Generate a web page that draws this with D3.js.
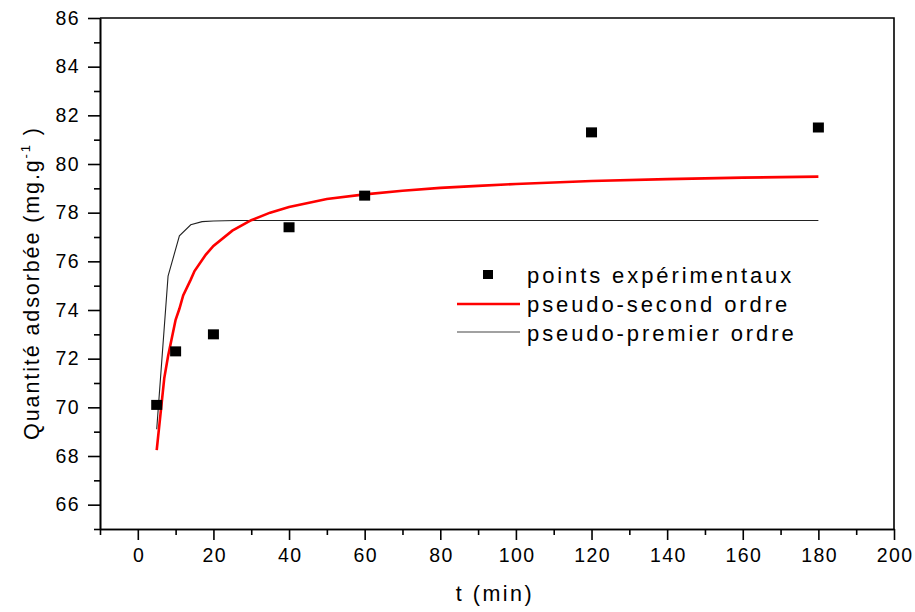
<!DOCTYPE html>
<html><head><meta charset="utf-8">
<script src="https://cdn.jsdelivr.net/npm/d3@7"></script>
<style>body{margin:0;background:#fff}svg{display:block}text{font-family:"Liberation Sans",Arial,sans-serif;fill:#000}</style>
</head><body><svg id="c" width="915" height="612"></svg>
<script>
// experimental points
const expT = [5, 10, 20, 40, 60, 120, 180];
const expQ = [70.1, 72.3, 73.0, 77.4, 78.7, 81.3, 81.5];
// pseudo-second order curve
const ps2T = [5, 7, 8, 10, 11, 12, 14, 15, 18, 20, 25, 30, 35, 40, 50, 60, 70, 80, 90, 100, 120, 140, 160, 180];
const ps2Q = [68.24, 71.2, 72.1, 73.6, 74.05, 74.6, 75.25, 75.6, 76.28, 76.63, 77.26, 77.69, 78.0, 78.23, 78.56, 78.75, 78.9, 79.02, 79.1, 79.18, 79.3, 79.38, 79.44, 79.48];
// pseudo-first order curve
const ps1T = [5, 8, 11, 14, 17, 20, 23, 26, 30, 180];
const ps1Q = [69.1, 75.39, 77.05, 77.5, 77.63, 77.66, 77.67, 77.68, 77.68, 77.68];
// axis ticks
const xMajor = [0, 20, 40, 60, 80, 100, 120, 140, 160, 180, 200];
const xMinor = [-10, 10, 30, 50, 70, 90, 110, 130, 150, 170, 190];
const yMajor = [66, 68, 70, 72, 74, 76, 78, 80, 82, 84, 86];
const yMinor = [65, 67, 69, 71, 73, 75, 77, 79, 81, 83, 85];
const legendLabels = ["points expérimentaux", "pseudo-second ordre", "pseudo-premier ordre"];

const svg = d3.select("#c");
const L = 100, R = 894, T = 18, B = 529;
const x = d3.scaleLinear().domain([-10, 200]).range([L, R]);
const y = d3.scaleLinear().domain([65, 86]).range([B, T]);

// frame (top/right)
svg.append("path").attr("d", `M${L},${T}H${R}V${B}`).attr("fill", "none").attr("stroke", "#000").attr("stroke-width", 1.6);

function styleAxis(g) {
  g.select(".domain").attr("stroke", "#000").attr("stroke-width", 1.6);
  g.selectAll(".tick line").attr("stroke", "#000").attr("stroke-width", 1.6);
  g.selectAll("text").attr("font-size", 19.5).attr("letter-spacing", 1.4).attr("fill", "#000")
    .attr("font-family", '"Liberation Sans",Arial,sans-serif');
}
// x axis
const gxm = svg.append("g").attr("transform", `translate(0,${B})`)
  .call(d3.axisBottom(x).tickValues(xMinor).tickSize(6).tickFormat("").tickSizeOuter(0));
styleAxis(gxm);
const gx = svg.append("g").attr("transform", `translate(0,${B})`)
  .call(d3.axisBottom(x).tickValues(xMajor).tickSize(11).tickPadding(8).tickFormat(d3.format("d")).tickSizeOuter(0));
styleAxis(gx);
gx.selectAll("text").attr("dy", "0.71em").attr("dx", 0.7);
// y axis
const gym = svg.append("g").attr("transform", `translate(${L},0)`)
  .call(d3.axisLeft(y).tickValues(yMinor).tickSize(6).tickFormat("").tickSizeOuter(0));
styleAxis(gym);
const gy = svg.append("g").attr("transform", `translate(${L},0)`)
  .call(d3.axisLeft(y).tickValues(yMajor).tickSize(12).tickPadding(8).tickFormat(d3.format("d")).tickSizeOuter(0));
styleAxis(gy);

// lines
const line = d3.line().x(d => x(d[0])).y(d => y(d[1]));
svg.append("path").datum(ps1T.map((t, i) => [t, ps1Q[i]]))
  .attr("d", line).attr("fill", "none").attr("stroke", "#222").attr("stroke-width", 1.1);
svg.append("path").datum(ps2T.map((t, i) => [t, ps2Q[i]]))
  .attr("d", line).attr("fill", "none").attr("stroke", "#ff0000").attr("stroke-width", 2.6);

// points
svg.selectAll("rect.pt").data(expT.map((t, i) => [t, expQ[i]])).enter().append("rect")
  .attr("class", "pt").attr("x", d => x(d[0]) - 5.5).attr("y", d => y(d[1]) - 5)
  .attr("width", 11).attr("height", 10).attr("fill", "#000");

// legend
const lg = svg.append("g");
const lx = 527, ly = [283, 312, 341];
lg.append("rect").attr("x", 483).attr("y", 270).attr("width", 10).attr("height", 9).attr("fill", "#000");
lg.append("line").attr("x1", 457).attr("x2", 520).attr("y1", 304).attr("y2", 304).attr("stroke", "#ff0000").attr("stroke-width", 2.6);
lg.append("line").attr("x1", 457).attr("x2", 520).attr("y1", 332).attr("y2", 332).attr("stroke", "#444").attr("stroke-width", 1.1);
legendLabels.forEach((s, i) => {
  lg.append("text").attr("x", lx).attr("y", ly[i]).attr("font-size", 22).attr("letter-spacing", 2.9).text(s);
});

// axis titles
svg.append("text").attr("x", 495).attr("y", 601).attr("text-anchor", "middle")
  .attr("font-size", 21.5).attr("letter-spacing", 2.5).text("t (min)");
const yt = svg.append("text").attr("transform", "translate(39,283) rotate(-90)").attr("text-anchor", "middle")
  .attr("font-size", 21.5).attr("letter-spacing", 1.9);
yt.append("tspan").text("Quantité adsorbée (mg.g");
yt.append("tspan").attr("font-size", 13).attr("dy", -9).text("-1");
yt.append("tspan").attr("dy", 9).text(" )");
</script></body></html>
